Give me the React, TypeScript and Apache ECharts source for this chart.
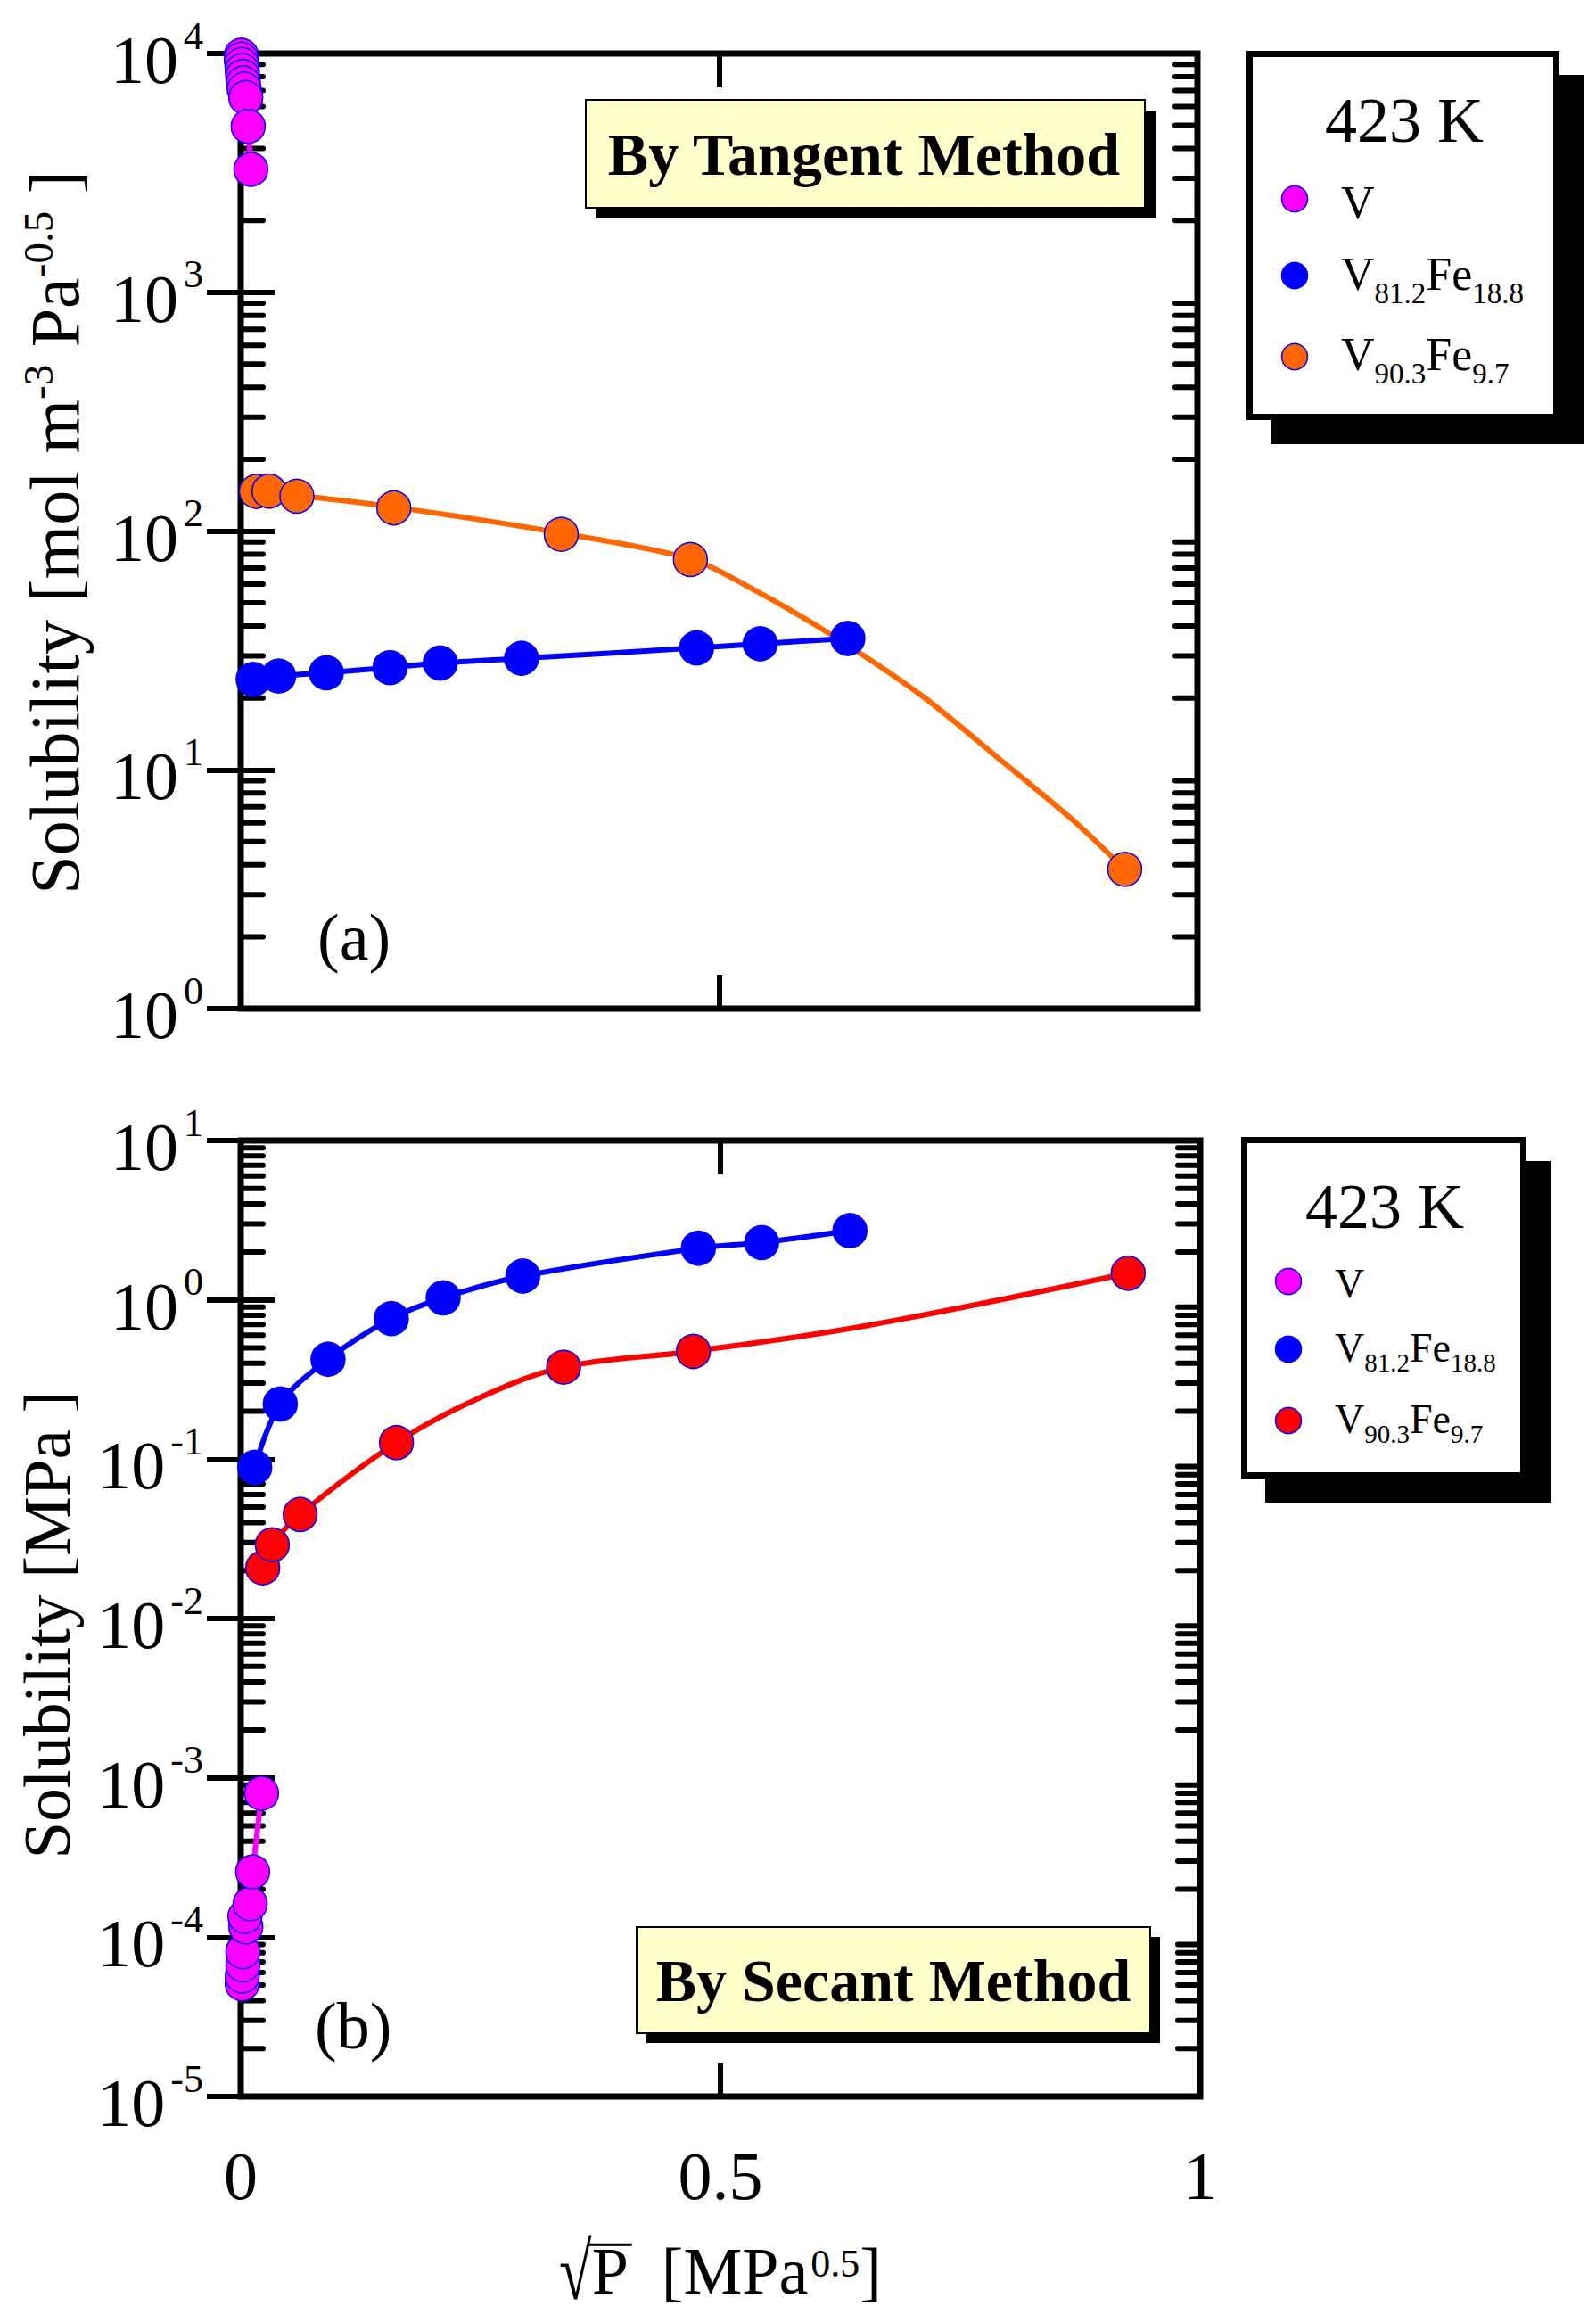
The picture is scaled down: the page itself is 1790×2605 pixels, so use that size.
import React, { useEffect, useRef } from 'react';
import * as echarts from 'echarts';

const FONT = '"Liberation Serif", "Times New Roman", serif';

// ---------- (a) Tangent method: solubility [mol m^-3 Pa^-0.5] ----------
const vTopX = [0.0006, 0.0006, 0.0012, 0.0016, 0.0021, 0.0028, 0.0037, 0.0053, 0.0078, 0.0106];
const vTopY = [9830, 9470, 8990, 8490, 8020, 7530, 7090, 6530, 4950, 3270];

const bTopX = [0.013, 0.0396, 0.0895, 0.156, 0.2085, 0.2934, 0.4765, 0.543, 0.6346];
const bTopY = [23.9, 24.7, 25.5, 26.8, 28.0, 29.3, 32.4, 33.7, 35.5];

const oTopX = [0.0163, 0.0296, 0.0587, 0.16, 0.335, 0.47, 0.924];
const oTopY = [146.6, 147, 140, 125, 96.9, 76, 3.83];
// fitted curve drawn through the orange data
const oFitX = [0.0587, 0.16, 0.335, 0.47, 0.5343, 0.612, 0.7114, 0.7952, 0.873, 0.924];
const oFitY = [141, 126, 98, 76.5, 57.4, 37.9, 20.5, 10.9, 6.0, 3.83];

// ---------- (b) Secant method: solubility [MPa] ----------
const vBotX = [0.0016, 0.0016, 0.0022, 0.0022, 0.0053, 0.0044, 0.0099, 0.0124, 0.0217];
const vBotY = [5.1e-5, 5.7e-5, 6.7e-5, 8.1e-5, 1.16e-4, 1.35e-4, 1.62e-4, 2.57e-4, 8.0e-4];

const bBotX = [0.0146, 0.0412, 0.091, 0.157, 0.211, 0.294, 0.477, 0.543, 0.635];
const bBotY = [0.089, 0.222, 0.424, 0.763, 1.03, 1.41, 2.11, 2.29, 2.72];

const rBotX = [0.0229, 0.0329, 0.0619, 0.1623, 0.3365, 0.4718, 0.925];
const rBotY = [0.0208, 0.029, 0.045, 0.127, 0.378, 0.475, 1.47];
const rFitX = [0.0229, 0.0329, 0.0619, 0.1623, 0.247, 0.3365, 0.4718, 0.653, 0.925];
const rFitY = [0.0208, 0.029, 0.045, 0.127, 0.24, 0.378, 0.475, 0.69, 1.47];

const xTicks = [0, 0.5, 1];
const topDecades = [0, 1, 2, 3];
const botDecades = [-5, -4, -3, -2, -1, 0];

const MAGENTA = '#FF00FF';
const BLUE = '#0000FF';
const ORANGE = '#FF6600';
const RED = '#FF0000';

const pairs = (xs: number[], ys: number[]) => xs.map((x, i) => [x, ys[i]]);
const minorValues = (decades: number[]) => {
  const out: number[] = [];
  decades.forEach((k) => {
    for (let m = 2; m <= 9; m++) out.push(m * Math.pow(10, k));
  });
  return out;
};

let measureCtx: CanvasRenderingContext2D | null = null;
function textWidth(t: string, size: number, bold = false) {
  if (!measureCtx) measureCtx = document.createElement('canvas').getContext('2d');
  if (!measureCtx) return t.length * size * 0.5;
  measureCtx.font = `${bold ? 'bold ' : ''}${size}px "Liberation Serif"`;
  return measureCtx.measureText(t).width;
}

function textEl(text: string, x: number, baseline: number, size: number, extra: any = {}) {
  return {
    type: 'text',
    x,
    y: baseline - 0.3375 * size,
    z: 100,
    style: {
      text,
      fill: '#000',
      font: `${extra.bold ? 'bold ' : ''}${size}px ${FONT}`,
      align: extra.align || 'left',
      verticalAlign: 'middle',
    },
  };
}

function legendEntry(x: number, baseline: number, parts: [string, boolean][], main: number, sub: number, drop: number) {
  const out: any[] = [];
  let cx = x;
  parts.forEach(([t, isSub]) => {
    const size = isSub ? sub : main;
    out.push(textEl(t, cx, isSub ? baseline + drop : baseline, size));
    cx += textWidth(t, size);
  });
  return out;
}

function legendBox(
  box: [number, number, number, number],
  shadow: [number, number],
  border: number,
  title: [number, number],
  rows: { color: string; cy: number; baseline: number; parts: [string, boolean][] }[],
  markerX: number,
  textX: number,
  main: number,
  sub: number,
  drop: number
) {
  const [x0, y0, x1, y1] = box;
  const els: any[] = [
    { type: 'rect', z: 90, shape: { x: x0 + shadow[0], y: y0 + shadow[1], width: x1 - x0, height: y1 - y0 }, style: { fill: '#000' } },
    {
      type: 'rect', z: 91,
      shape: { x: x0 + border / 2, y: y0 + border / 2, width: x1 - x0 - border, height: y1 - y0 - border },
      style: { fill: '#fff', stroke: '#000', lineWidth: border },
    },
    textEl('423 K', title[0], title[1], 72, { align: 'center' }),
  ];
  rows.forEach((r) => {
    els.push({ type: 'circle', z: 100, shape: { cx: markerX, cy: r.cy, r: 14.5 }, style: { fill: r.color, stroke: BLUE, lineWidth: 1.5 } });
    els.push(...legendEntry(textX, r.baseline, r.parts, main, sub, drop));
  });
  return els;
}

function noteBox(x0: number, y0: number, x1: number, y1: number, off: number, text: string, cx: number, baseline: number) {
  return [
    { type: 'rect', z: 90, shape: { x: x0 + off, y: y0 + off, width: x1 - x0, height: y1 - y0 }, style: { fill: '#000' } },
    { type: 'rect', z: 91, shape: { x: x0, y: y0, width: x1 - x0, height: y1 - y0 }, style: { fill: '#FFFFCC', stroke: '#000', lineWidth: 2 } },
    textEl(text, cx, baseline, 68, { bold: true, align: 'center' }),
  ];
}

// x-axis title "√P  [MPa^0.5]" built from pieces, with the radical's over-bar
function xTitle(cx: number, baseline: number) {
  const M = 74;
  const S = 44;
  const sqScaleX = 0.9;
  const sqScaleY = 1.22;
  const wSq = textWidth('√', M) * sqScaleX;
  const wP = textWidth('P', M);
  const wMid = textWidth('  [MPa', M);
  const wSup = textWidth('0.5', S);
  const wEnd = textWidth(']', M);
  const gap = 3;
  const total = wSq + wP + wMid + gap + wSup + wEnd;
  let x = cx - total / 2;
  const els: any[] = [];
  els.push({
    type: 'group', x, y: baseline + 6, scaleX: sqScaleX, scaleY: sqScaleY, z: 100,
    children: [{ type: 'text', x: 0, y: -0.3375 * M, style: { text: '√', fill: '#000', font: `${M}px ${FONT}`, align: 'left', verticalAlign: 'middle' } }],
  });
  const barY = baseline + 6 - 0.69 * M * sqScaleY + 1.5;
  const xSqEnd = x + wSq;
  x += wSq;
  els.push(textEl('P', x, baseline, M));
  els.push({ type: 'line', z: 100, shape: { x1: xSqEnd - 3, y1: barY, x2: x + wP + 4, y2: barY }, style: { stroke: '#000', lineWidth: 3 } });
  x += wP;
  els.push(textEl('  [MPa', x, baseline, M));
  x += wMid + gap;
  els.push(textEl('0.5', x, baseline - 19, S));
  x += wSup;
  els.push(textEl(']', x, baseline, M));
  return els;
}

const yLabel = {
  show: true,
  margin: 42,
  formatter: (v: number) => `{b|10}{s|${Math.round(Math.log10(v))}}`,
  rich: {
    b: { fontSize: 76, fontFamily: FONT, color: '#000', lineHeight: 96, padding: [14, 0, 0, 0] },
    s: { fontSize: 44, fontFamily: FONT, color: '#000', verticalAlign: 'top', padding: [6, 0, 0, 6] },
  },
};

const tickStyle = { show: true, inside: true, length: 38, lineStyle: { color: '#000', width: 6 } };

function xAxisDef(grid: number, pos: 'top' | 'bottom', labels: boolean) {
  return {
    type: 'value', gridIndex: grid, position: pos, min: xTicks[0], max: xTicks[xTicks.length - 1], interval: 0.5,
    axisLine: { show: false }, splitLine: { show: false }, axisTick: tickStyle,
    axisLabel: labels
      ? { show: true, margin: 51, fontSize: 76, fontFamily: FONT, color: '#000', formatter: (v: number) => String(v) }
      : { show: false },
  };
}
function yAxisDef(grid: number, pos: 'left' | 'right', min: number, max: number, labels: boolean) {
  return {
    type: 'log', logBase: 10, gridIndex: grid, position: pos, min, max,
    axisLine: { show: false }, splitLine: { show: false }, minorTick: { show: false }, axisTick: tickStyle,
    axisLabel: labels ? yLabel : { show: false },
  };
}

function minorSeries(xi: number, yi: number, decades: number[]) {
  return {
    type: 'custom', xAxisIndex: xi, yAxisIndex: yi, silent: true, clip: false, z: 1,
    data: minorValues(decades).map((v) => [0, v]),
    renderItem: (_p: any, api: any) => {
      const v = api.value(1);
      const a = api.coord([0, v]);
      const b = api.coord([1, v]);
      return {
        type: 'group',
        children: [
          { type: 'line', shape: { x1: a[0], y1: a[1], x2: a[0] + 25, y2: a[1] }, style: { stroke: '#000', lineWidth: 6, lineCap: 'round' } },
          { type: 'line', shape: { x1: b[0], y1: b[1], x2: b[0] - 25, y2: b[1] }, style: { stroke: '#000', lineWidth: 6, lineCap: 'round' } },
        ],
      };
    },
  };
}

function lineS(name: string, xi: number, yi: number, data: number[][], color: string, smooth: number | boolean) {
  return {
    name, type: 'line', xAxisIndex: xi, yAxisIndex: yi, data, smooth, showSymbol: false, symbol: 'none',
    lineStyle: { color, width: 6 }, z: 3, silent: true, clip: false,
  };
}
function scatS(name: string, xi: number, yi: number, data: number[][], color: string) {
  return {
    name, type: 'scatter', xAxisIndex: xi, yAxisIndex: yi, data, symbol: 'circle', symbolSize: 38,
    itemStyle: { color, borderColor: BLUE, borderWidth: 1.5, opacity: 1 }, z: 5, clip: false,
  };
}

const richTop = {
  m: { fontSize: 78, fontFamily: FONT, fill: '#000', lineHeight: 84 },
  s: { fontSize: 47, fontFamily: FONT, fill: '#000', verticalAlign: 'top' },
};
const richBot = {
  m: { fontSize: 75, fontFamily: FONT, fill: '#000', lineHeight: 82 },
};

function buildOption() {
  return {
    animation: false,
    backgroundColor: '#fff',
    grid: [
      { left: 270, top: 60, width: 1073, height: 1071, show: true, borderColor: '#000', borderWidth: 7, backgroundColor: 'transparent' },
      { left: 270, top: 1279, width: 1076, height: 1072, show: true, borderColor: '#000', borderWidth: 7, backgroundColor: 'transparent' },
    ],
    xAxis: [xAxisDef(0, 'bottom', false), xAxisDef(0, 'top', false), xAxisDef(1, 'bottom', true), xAxisDef(1, 'top', false)],
    yAxis: [
      yAxisDef(0, 'left', 1, 1e4, true),
      yAxisDef(0, 'right', 1, 1e4, false),
      yAxisDef(1, 'left', 1e-5, 10, true),
      yAxisDef(1, 'right', 1e-5, 10, false),
    ],
    series: [
      minorSeries(0, 0, topDecades),
      minorSeries(2, 2, botDecades),
      lineS('V', 0, 0, pairs(vTopX, vTopY), MAGENTA, false),
      lineS('V81.2Fe18.8', 0, 0, pairs(bTopX, bTopY), BLUE, 0.3),
      lineS('V90.3Fe9.7 fit', 0, 0, pairs(oFitX, oFitY), ORANGE, 0.3),
      scatS('V', 0, 0, pairs(vTopX, vTopY), MAGENTA),
      scatS('V81.2Fe18.8', 0, 0, pairs(bTopX, bTopY), BLUE),
      scatS('V90.3Fe9.7', 0, 0, pairs(oTopX, oTopY), ORANGE),
      lineS('V (b)', 2, 2, pairs(vBotX, vBotY), MAGENTA, false),
      lineS('V81.2Fe18.8 (b)', 2, 2, pairs(bBotX, bBotY), BLUE, 0.35),
      lineS('V90.3Fe9.7 (b) fit', 2, 2, pairs(rFitX, rFitY), RED, 0.35),
      scatS('V (b)', 2, 2, pairs(vBotX, vBotY), MAGENTA),
      scatS('V81.2Fe18.8 (b)', 2, 2, pairs(bBotX, bBotY), BLUE),
      scatS('V90.3Fe9.7 (b)', 2, 2, pairs(rBotX, rBotY), RED),
    ],
    graphic: [
      // axis titles
      {
        type: 'text', x: 61, y: 597, rotation: Math.PI / 2, z: 100,
        style: { text: '{m|Solubility [mol m}{s|-3}{m| Pa}{s|-0.5}{m| ]}', rich: richTop, align: 'center', verticalAlign: 'middle' },
      },
      {
        type: 'text', x: 52, y: 1822, rotation: Math.PI / 2, z: 100,
        style: { text: '{m|Solubility [MPa ]}', rich: richBot, align: 'center', verticalAlign: 'middle' },
      },
      ...xTitle(808, 2572),
      // panel tags
      textEl('(a)', 356, 1076, 74),
      textEl('(b)', 353, 2297, 74),
      // method boxes
      ...noteBox(657, 112, 1284, 233, 12, 'By Tangent Method', 969, 196),
      ...noteBox(714, 2161, 1290, 2280, 11, 'By Secant Method', 1002, 2244),
      // legends
      ...legendBox([1398, 57, 1749, 471], [27, 27], 7, [1575, 159], [
        { color: MAGENTA, cy: 223, baseline: 245, parts: [['V', false]] },
        { color: BLUE, cy: 309, baseline: 325, parts: [['V', false], ['81.2', true], ['Fe', false], ['18.8', true]] },
        { color: ORANGE, cy: 400, baseline: 415, parts: [['V', false], ['90.3', true], ['Fe', false], ['9.7', true]] },
      ], 1452, 1504, 52, 33, 15),
      ...legendBox([1392, 1275, 1712, 1658], [27, 27], 7, [1553, 1377], [
        { color: MAGENTA, cy: 1437, baseline: 1455, parts: [['V', false]] },
        { color: BLUE, cy: 1513, baseline: 1527, parts: [['V', false], ['81.2', true], ['Fe', false], ['18.8', true]] },
        { color: RED, cy: 1593, baseline: 1607, parts: [['V', false], ['90.3', true], ['Fe', false], ['9.7', true]] },
      ], 1445, 1497, 46, 29, 11),
    ],
  };
}

export default function App() {
  const ref = useRef<HTMLDivElement>(null);
  useEffect(() => {
    if (!ref.current) return;
    const chart = echarts.init(ref.current, null, { renderer: 'svg', width: 1790, height: 2605 });
    chart.setOption(buildOption() as any);
    return () => chart.dispose();
  }, []);
  return (
    <div
      ref={ref}
      style={{ position: 'absolute', left: 0, top: 0, width: 1790, height: 2605, background: '#fff' }}
    />
  );
}
